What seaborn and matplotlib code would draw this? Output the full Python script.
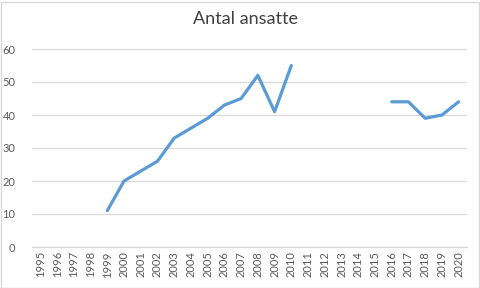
import matplotlib
matplotlib.use("Agg")
import matplotlib.pyplot as plt
import seaborn as sns
import numpy as np
import pandas as pd

years = [str(y) for y in range(1995, 2021)]
values = [np.nan, np.nan, np.nan, np.nan, 11, 20, 23, 26, 33, 36, 39, 43, 45, 52, 41, 55,
          np.nan, np.nan, np.nan, np.nan, np.nan, 44, 44, 39, 40, 44]
yticks = [0, 10, 20, 30, 40, 50, 60]
title = "Antal ansatte"

sns.set_theme(style="white")
plt.rcParams['font.family'] = ['Lato', 'DejaVu Sans']

df = pd.DataFrame({"pos": np.arange(len(years)), "year": years, "value": values})
df["seg"] = df["value"].isna().cumsum()
df = df.dropna()

fig = plt.figure(figsize=(4.81, 2.88), dpi=100)
ax = fig.add_axes([32/481, 1-247/288, (467-32)/481, (247-49)/288])
line_color = "#5B9BD5"
for _, g in df.groupby("seg"):
    sns.lineplot(data=g, x="pos", y="value", ax=ax, color=line_color, linewidth=2.3,
                 solid_capstyle="round", solid_joinstyle="round", legend=False)

ax.set_xlim(-0.5, len(years) - 0.5)
ax.set_ylim(0, 60)
ax.set_yticks(yticks)
ax.set_yticklabels([str(t) for t in yticks])
ax.set_xticks(np.arange(len(years)))
ax.set_xticklabels(years, rotation=90)
ax.tick_params(axis="both", length=0, labelsize=8, labelcolor="#595959")
ax.tick_params(axis="y", pad=12)
ax.tick_params(axis="x", pad=3)
ax.yaxis.grid(True, color="#D9D9D9", linewidth=0.9)
ax.set_axisbelow(True)
for s in ["top", "right", "left"]:
    ax.spines[s].set_visible(False)
ax.spines["bottom"].set_color("#D9D9D9")
ax.spines["bottom"].set_linewidth(0.9)
ax.set_xlabel("")
ax.set_ylabel("")

fig.text(0.511, 1 - 19/288, title, ha="center", va="center", fontsize=13, color="#404040")
fig.patches.append(plt.Rectangle((0.5/481, 0.5/288), 479/481, 286/288, transform=fig.transFigure,
                                 fill=False, edgecolor="#D9D9D9", linewidth=1))
fig.savefig("out.png", dpi=100)
